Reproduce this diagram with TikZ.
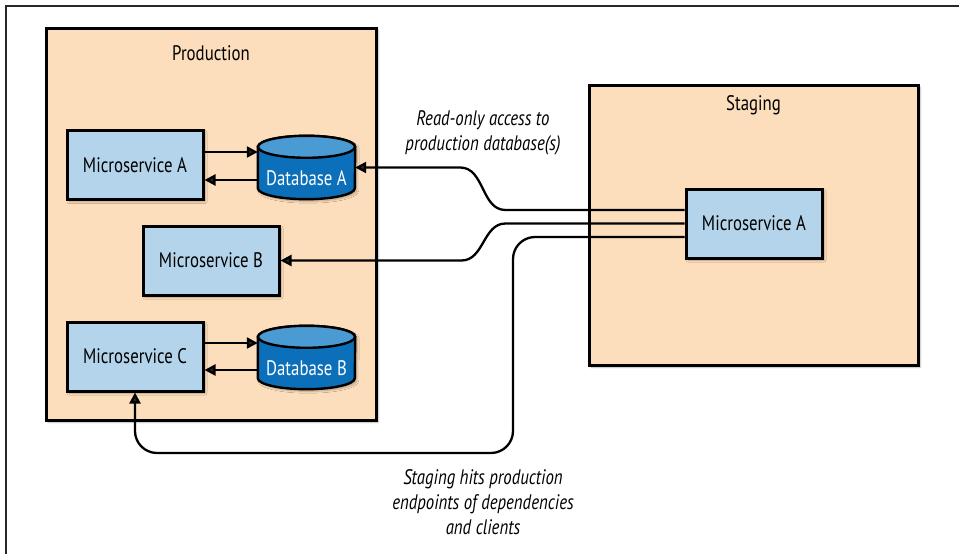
\documentclass[tikz,border=0pt]{standalone}
\usepackage{fontspec}
\setmainfont[FakeStretch=0.8]{PT Sans}
\usepackage{tikz}
\usetikzlibrary{arrows.meta, shadows.blur}
\definecolor{peachenv}{RGB}{252,222,188}
\definecolor{msblue}{RGB}{179,212,234}
\definecolor{dbtop}{RGB}{74,154,212}
\definecolor{dbbody}{RGB}{11,112,185}
\definecolor{framegray}{RGB}{40,40,40}
\tikzset{
  boxshadow/.style={blur shadow={shadow xshift=2pt, shadow yshift=-2pt, shadow blur steps=6, shadow opacity=30}},
  envbox/.style={draw, line width=3pt, fill=peachenv, inner sep=0, boxshadow},
  msbox/.style={draw, line width=3pt, fill=msblue, minimum width=136pt, minimum height=69pt, inner sep=0, boxshadow},
  dbshape/.style={minimum width=97pt, minimum height=63pt, inner sep=0},
  dblabel/.style={text=white},
  flow/.style={line width=2.3pt, -{Triangle[length=11pt,width=11pt]}},
  note/.style={font=\fontsize{21}{25}\selectfont\itshape, align=center}
}

\begin{document}
\begin{tikzpicture}[x=1pt, y=-1pt, font=\fontsize{21}{25}\selectfont]
\useasboundingbox (0,0) rectangle (959,554);
\draw[line width=2pt, framegray] (959,6) -- (6,6) -- (6,554);
\node[envbox, minimum width=330pt, minimum height=392pt] (prod) at (211,224) {};
\node[envbox, minimum width=329pt, minimum height=280pt] (stage) at (753.5,225) {};
\node (prodlbl) at (211,53) {Production};
\node (stagelbl) at (753.5,105) {Staging};
\node[msbox] (msA) at (135,165) {Microservice A};
\node[msbox] (msB) at (211,260.5) {Microservice B};
\node[msbox] (msC) at (135,356.5) {Microservice C};
\node[msbox] (sA) at (754,223.5) {Microservice A};
\node[dbshape] (dbA) at (306.5,167.5) {};
\node[dbshape] (dbB) at (306.5,357.5) {};
\foreach \db in {dbA,dbB} {
  \draw[line width=2.4pt, fill=dbbody, boxshadow] ([yshift=-11pt]\db.north west) -- ([yshift=11pt]\db.south west)
    arc[start angle=180, end angle=360, x radius=48.5pt, y radius=11pt] -- ([yshift=-11pt]\db.north east)
    arc[start angle=0, end angle=180, x radius=48.5pt, y radius=11pt] -- cycle;
  \draw[line width=2.4pt, fill=dbtop] ([yshift=-11pt]\db.north) ellipse[x radius=48.5pt, y radius=11pt];
}
\node[dblabel] (dbAtext) at ([yshift=-11pt]dbA.center) {Database A};
\node[dblabel] (dbBtext) at ([yshift=-11pt]dbB.center) {Database B};
\draw[flow] ([yshift=13pt]msA.east) -- ([yshift=13pt]msA.east -| dbA.west);
\draw[flow] ([yshift=-15pt]msA.east -| dbA.west) -- ([yshift=-15pt]msA.east);
\draw[flow] ([yshift=13.5pt]msC.east) -- ([yshift=13.5pt]msC.east -| dbB.west);
\draw[flow] ([yshift=-13.5pt]msC.east -| dbB.west) -- ([yshift=-13.5pt]msC.east);
\draw[flow] ([yshift=13.5pt]sA.west) -- ++(-179,0) to[out=180, in=0] ([xshift=105pt]dbA.east) -- (dbA.east);
\draw[flow] (sA.west) -- ++(-179,0) to[out=180, in=0] ([xshift=181pt]msB.east) -- (msB.east);
\coordinate (loop) at (513,453);
\draw[flow, rounded corners=22pt] ([yshift=-13.5pt]sA.west) -| (loop) -| (msC.south);
\node[note] (readnote) at (483,133) {Read-only access to\\production database(s)};
\node[note] (hitnote) at (483,502) {Staging hits production\\endpoints of dependencies\\and clients};
\end{tikzpicture}
\end{document}
